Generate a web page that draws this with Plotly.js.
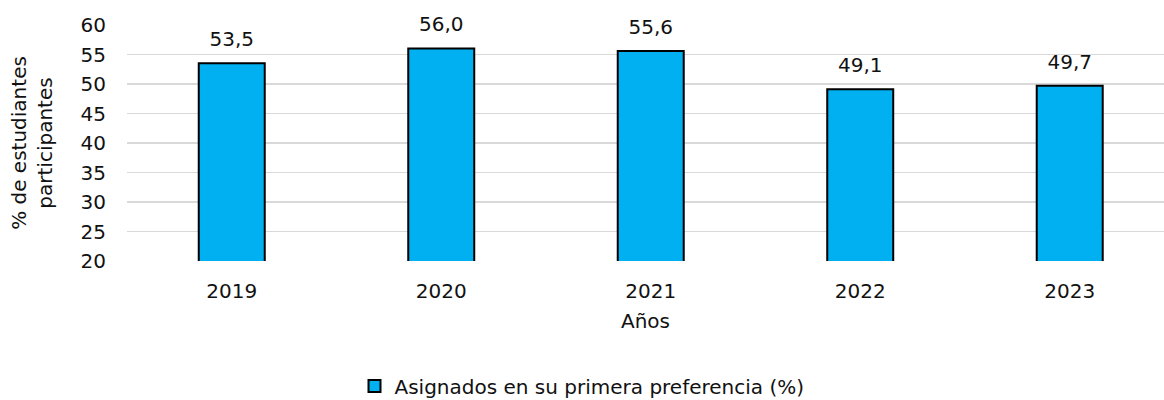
<!DOCTYPE html>
<html>
<head>
<meta charset="utf-8">
<script src="https://cdn.plot.ly/plotly-3.0.1.min.js"></script>
<style>html,body{margin:0;padding:0;background:#fff;}#chart{width:1164px;height:400px;}</style>
</head>
<body>
<div id="chart"></div>
<script>
const years = ['2019', '2020', '2021', '2022', '2023'];
const values = [53.5, 56.0, 55.6, 49.1, 49.7];
const valueLabels = ['53,5', '56,0', '55,6', '49,1', '49,7'];
const seriesName = 'Asignados en su primera preferencia (%)';
const yTicks = [20, 25, 30, 35, 40, 45, 50, 55, 60];

const FONT = 'DejaVu Sans, Verdana, sans-serif';

const bars = {
  type: 'bar',
  x: years,
  y: values,
  name: seriesName,
  width: 0.315,
  marker: {color: '#00B0F0', line: {color: '#000000', width: 2}},
  hoverinfo: 'skip'
};

const labels = {
  type: 'scatter',
  mode: 'markers+text',
  x: years,
  y: values,
  text: valueLabels,
  textposition: 'top center',
  textfont: {family: FONT, size: 20, color: '#111'},
  marker: {size: 18, opacity: 0, color: 'rgba(0,0,0,0)'},
  showlegend: false,
  cliponaxis: false,
  hoverinfo: 'skip'
};

const layout = {
  width: 1164, height: 400,
  margin: {l: 127, r: 0, t: 25, b: 139},
  paper_bgcolor: '#fff', plot_bgcolor: '#fff',
  font: {family: FONT, size: 20, color: '#111'},
  showlegend: true,
  legend: {
    orientation: 'h', xref: 'container', yref: 'container',
    x: 0.5, xanchor: 'center', y: 0.035, yanchor: 'middle',
    font: {family: FONT, size: 20, color: '#111'},
    itemwidth: 30
  },
  xaxis: {
    type: 'category', range: [-0.5, 4.45],
    showgrid: false, showline: false, zeroline: false,
    ticks: 'outside', ticklen: 12, tickcolor: 'rgba(0,0,0,0)',
    tickfont: {family: FONT, size: 20, color: '#111'},
    title: {text: 'Años', font: {family: FONT, size: 20, color: '#111'}, standoff: 11}
  },
  yaxis: {
    range: [20, 60], tickvals: yTicks, ticktext: yTicks.map(String),
    showgrid: true, gridcolor: '#d9d9d9', gridwidth: 1.5,
    zeroline: false, showline: false,
    ticks: 'outside', ticklen: 16, tickcolor: 'rgba(0,0,0,0)',
    tickfont: {family: FONT, size: 20, color: '#111'},
    title: {text: '% de estudiantes<br>participantes', font: {family: FONT, size: 20, color: '#111'}, standoff: 22}
  }
};

Plotly.newPlot('chart', [bars, labels], layout, {displayModeBar: false, staticPlot: true});
</script>
</body>
</html>
